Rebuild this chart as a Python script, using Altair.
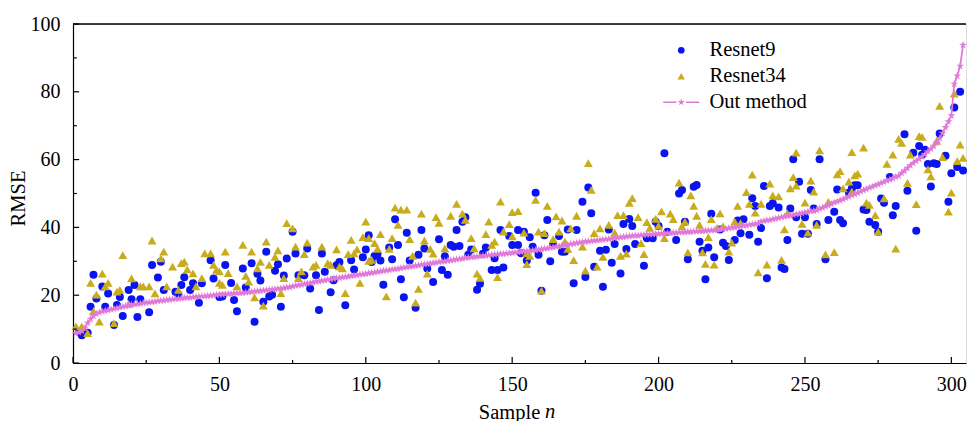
import altair as alt
import pandas as pd

FONT = "Liberation Serif"
BLUE = "#0a14f0"
GOLD = "#c8ac1c"
PINK = "#e07ad8"

series_names = ["Resnet9", "Resnet34", "Out method"]

# Resnet9 (blue dots): sample index and RMSE
r9_x = [2, 3, 5, 6, 7, 8, 10, 11, 12, 14, 15, 16, 17, 19, 20, 21, 22, 23, 26, 27,
        29, 30, 31, 35, 36, 37, 38, 40, 41, 43, 44, 47, 48, 50,
        51, 52, 54, 55, 56, 58, 59, 61, 62, 63, 64, 65, 66, 67, 68, 69, 70, 71, 72, 73,
        75, 76, 77, 79, 80, 81, 83, 84, 85, 86, 88, 89, 90, 91, 93, 95, 96, 99, 100, 101, 102,
        103, 104, 105, 106, 108, 109, 110, 111, 112, 113, 114, 115, 117, 118, 119, 120, 121, 123, 125, 126,
        127, 128, 129, 130, 131, 132, 133, 134, 135, 136, 138, 139, 140, 141, 143, 144, 145, 146, 147, 149, 150, 152,
        152, 153, 154, 155, 156, 157, 158, 159, 160, 161, 162, 163, 164, 166, 167, 168, 169, 171, 172, 174,
        175, 176, 177, 178, 180, 181, 182, 183, 184, 185, 187, 188, 189, 190, 191, 192, 195, 196, 198, 199, 200, 202, 203,
        206, 207, 208, 209, 210, 212, 213, 214, 215, 216, 217, 218, 219, 221, 222, 223, 224, 226, 227, 228,
        229, 231, 232, 233, 234, 235, 236, 237, 238, 239, 241, 242, 243, 244, 245, 246, 247, 248, 249, 250, 251, 252, 253, 254, 255,
        257, 258, 260, 261, 262, 263, 265, 266, 267, 268, 270, 271, 272, 274, 275, 276, 277, 279, 280, 281,
        284, 285, 287, 288, 289, 290, 291, 292, 293, 294, 295, 296, 298, 299, 300, 301, 302, 303, 304]
r9_y = [9.2, 8.2, 8.9, 16.6, 26.0, 19.0, 22.6, 16.6, 20.5, 11.2, 17.1, 19.5, 13.9, 21.5, 18.8, 23.0, 13.6, 18.8, 15.0, 28.9,
        25.2, 29.9, 21.5, 21.0, 20.1, 23.0, 25.3, 21.5, 23.5, 17.8, 23.5, 30.3, 24.9, 19.5,
        19.6, 28.9, 23.6, 18.6, 15.3, 27.9, 22.3, 29.4, 12.2, 26.3, 24.3, 18.1, 32.8, 19.6, 20.1, 27.2, 29.1, 16.6, 25.8, 30.8,
        38.7, 32.3, 25.9, 25.9, 33.8, 22.0, 25.9, 15.6, 32.3, 26.9, 20.9, 24.4, 28.8, 29.8, 17.0, 30.3, 27.6, 31.2, 33.5, 37.7, 29.8,
        31.6, 32.2, 30.2, 23.1, 34.1, 30.6, 42.4, 34.8, 24.7, 19.4, 38.4, 30.2, 16.3, 31.9, 39.2, 33.8, 27.9, 23.9, 36.5, 27.4,
        31.5, 26.0, 34.8, 34.3, 39.2, 34.5, 41.7, 43.0, 31.9, 33.5, 21.6, 23.4, 32.2, 34.1, 27.4, 30.9, 27.4, 39.2, 28.2, 37.5, 34.8, 39.2,
        34.8, 32.4, 38.7, 30.2, 37.1, 34.3, 50.2, 31.9, 21.3, 37.7, 42.2, 30.0, 35.1, 37.5, 32.8, 32.8, 39.4, 23.5, 39.2, 47.6,
        25.4, 51.8, 44.2, 28.4, 33.1, 22.5, 33.4, 39.4, 29.6, 35.1, 26.4, 41.0, 33.6, 42.5, 40.4, 35.1, 28.7, 36.8, 36.8, 41.7, 40.4, 61.9, 38.7,
        36.3, 50.0, 51.0, 41.7, 30.6, 52.0, 52.5, 35.8, 33.1, 24.7, 34.1, 44.0, 31.2, 39.4, 35.5, 34.5, 30.4, 36.3, 42.0, 38.3,
        42.4, 37.8, 48.6, 46.3, 35.8, 39.8, 52.2, 25.0, 46.3, 47.1, 45.9, 28.2, 27.7, 36.3, 45.6, 60.1, 43.0, 53.5, 38.1, 43.0, 38.1, 51.0, 45.6, 41.0, 60.1,
        30.6, 42.2, 44.6, 51.2, 42.2, 41.2, 50.2, 51.5, 52.4, 52.4, 45.3, 45.1, 41.7, 40.7, 38.7, 48.5, 47.3, 54.9, 43.6, 46.3,
        67.5, 50.8, 62.0, 39.0, 64.0, 61.4, 62.9, 58.7, 52.1, 58.9, 58.7, 67.7, 61.1, 47.6, 56.0, 75.4, 57.8, 80.0, 56.8]

# Resnet34 (gold triangles): sample index and RMSE
r34_x = [1, 3, 5, 6, 7, 8, 9, 10, 11, 12, 14, 15, 16, 17, 19, 20, 23, 24, 26, 27,
         28, 30, 31, 32, 34, 36, 37, 38, 39, 41, 42, 44, 45, 47, 48, 49, 50,
         50, 51, 52, 53, 56, 58, 59, 60, 61, 62, 63, 64, 65, 66, 67, 69, 70, 71, 72, 73,
         75, 76, 77, 78, 79, 80, 82, 83, 85, 87, 88, 90, 91, 92, 93, 94, 95, 96, 97, 98, 99, 100, 101,
         101, 102, 103, 104, 105, 107, 108, 109, 110, 111, 112, 114, 115, 116, 117, 118, 119, 120, 121, 122,
         123, 124, 125, 127, 129, 131, 133, 134, 136, 137, 138, 139, 141, 142, 143, 144, 145, 146, 147, 149, 150, 150, 152,
         154, 155, 155, 156, 158, 159, 160, 161, 162, 164, 165, 166, 167, 168, 169, 170, 171, 172, 174, 175,
         176, 177, 178, 179, 180, 181, 183, 185, 186, 187, 188, 189, 190, 191, 193, 194, 195, 196, 197, 199, 200, 201, 202,
         204, 205, 207, 208, 209, 210, 211, 212, 213, 214, 215, 216, 217, 218, 219, 220, 221, 222, 224, 225,
         226, 227, 228, 230, 231, 232, 233, 234, 235, 237, 238, 239, 241, 242, 243, 244, 245, 246, 247, 247,
         249, 250, 251, 252, 253, 254, 255,
         257, 258, 260, 261, 262, 263, 265, 266, 266, 267, 268, 270, 271, 272, 274, 275, 277, 278, 280, 281,
         282, 283, 285, 286, 288, 289, 290, 292, 293, 295, 296, 297, 299, 300, 301, 302, 303, 304]
r34_y = [10.8, 10.8, 8.8, 23.6, 15.3, 20.1, 12.2, 26.3, 22.6, 23.6, 11.7, 21.0, 21.5, 31.8, 17.4, 24.9, 22.6, 22.6, 22.6, 36.1,
         20.5, 30.8, 32.8, 22.6, 28.4, 21.5, 29.4, 29.9, 27.6, 26.4, 22.6, 25.0, 32.3, 32.3, 28.9, 27.4, 23.6,
         27.0, 23.0, 32.8, 26.5, 22.6, 34.8, 25.7, 24.0, 32.8, 19.3, 27.9, 29.8, 16.9, 35.8, 28.9, 31.3, 33.2, 20.6, 25.0, 41.2,
         39.7, 34.3, 25.0, 27.0, 32.1, 35.5, 28.4, 28.9, 34.3, 29.4, 28.9, 33.5, 28.4, 27.9, 20.6, 32.1, 36.3, 32.3, 33.5, 23.6, 37.1, 41.7, 30.1,
         36.8, 30.4, 35.3, 33.6, 38.0, 19.6, 33.6, 36.8, 45.8, 40.7, 45.2, 45.2, 36.5, 31.6, 17.8, 21.8, 44.0, 36.1, 26.3, 33.6,
         32.2, 43.0, 41.3, 33.8, 43.4, 46.9, 44.0, 42.2, 36.8, 33.8, 26.3, 25.1, 38.0, 41.7, 34.8, 35.8, 25.3, 47.6, 38.7, 40.9, 44.5, 37.3, 44.8,
         38.4, 32.4, 29.1, 31.6, 48.1, 38.7, 21.3, 38.3, 46.3, 36.5, 43.2, 38.7, 42.0, 35.8, 33.6, 39.7, 30.3, 43.4, 34.3, 27.2,
         58.9, 51.0, 38.3, 28.4, 39.7, 31.3, 40.7, 38.4, 43.6, 31.6, 43.6, 32.2, 47.2, 48.6, 43.0, 35.3, 32.1, 41.5, 39.8, 42.5, 40.5, 44.7, 36.8,
         44.0, 42.4, 53.2, 40.3, 41.7, 32.6, 49.4, 46.3, 43.4, 40.7, 32.6, 29.2, 37.1, 42.4, 29.0, 39.8, 44.1, 40.3, 32.8, 35.5,
         41.7, 46.3, 41.2, 50.4, 46.9, 55.5, 44.3, 26.7, 46.9, 29.0, 52.9, 49.4, 49.1, 30.4, 39.4, 44.1, 51.5, 54.8, 52.3, 62.0,
         41.0, 47.3, 38.4, 53.8, 50.5, 40.7, 62.7,
         32.0, 47.5, 32.7, 55.6, 56.6, 51.5, 53.5, 50.5, 62.2, 55.3, 55.8, 63.5, 47.3, 46.6, 43.6, 38.7, 48.5, 58.7, 61.4, 33.7,
         66.1, 64.9, 53.1, 61.4, 46.8, 66.9, 66.7, 57.1, 55.0, 65.5, 75.8, 60.7, 44.6, 50.2, 79.4, 59.5, 64.4, 60.5]

# Out method (sorted curve), samples 1..304
out_y = [8.8, 9.0, 9.4, 10.3, 11.8, 13.0, 13.9, 14.5, 14.9, 15.2,
         15.4, 15.6, 15.8, 16.0, 16.2, 16.4, 16.6, 16.8, 17.0, 17.2,
         17.3, 17.4, 17.5, 17.7, 17.8, 17.9, 18.0, 18.1, 18.3, 18.4,
         18.5, 18.6, 18.7, 18.8, 18.9, 19.0, 19.1, 19.2, 19.3, 19.3,
         19.4, 19.5, 19.6, 19.7, 19.7, 19.8, 19.9, 20.0, 20.1, 20.2,
         20.2, 20.3, 20.4, 20.4, 20.5, 20.6, 20.6, 20.7, 20.8, 20.9,
         21.0, 21.1, 21.2, 21.3, 21.4, 21.5, 21.6, 21.7, 21.8, 21.9,
         22.0, 22.1, 22.3, 22.4, 22.6, 22.8, 23.0, 23.1, 23.3, 23.5,
         23.6, 23.8, 24.0, 24.1, 24.3, 24.4, 24.6, 24.7, 24.9, 25.0,
         25.1, 25.3, 25.4, 25.5, 25.7, 25.8, 25.9, 26.1, 26.2, 26.3,
         26.5, 26.6, 26.7, 26.9, 27.0, 27.2, 27.3, 27.4, 27.6, 27.7,
         27.8, 28.0, 28.1, 28.3, 28.4, 28.5, 28.7, 28.8, 29.0, 29.1,
         29.2, 29.4, 29.5, 29.6, 29.8, 29.9, 30.0, 30.2, 30.3, 30.4,
         30.6, 30.7, 30.8, 31.0, 31.1, 31.2, 31.3, 31.4, 31.5, 31.6,
         31.7, 31.8, 31.9, 32.0, 32.1, 32.2, 32.2, 32.3, 32.4, 32.5,
         32.6, 32.7, 32.8, 32.9, 33.0, 33.1, 33.2, 33.3, 33.4, 33.6,
         33.7, 33.8, 34.0, 34.1, 34.3, 34.4, 34.6, 34.8, 34.9, 35.1,
         35.2, 35.4, 35.5, 35.7, 35.8, 35.9, 36.0, 36.1, 36.2, 36.3,
         36.4, 36.5, 36.6, 36.7, 36.9, 37.0, 37.1, 37.2, 37.3, 37.4,
         37.5, 37.6, 37.6, 37.7, 37.8, 37.9, 37.9, 38.0, 38.1, 38.1,
         38.2, 38.2, 38.3, 38.3, 38.4, 38.4, 38.5, 38.5, 38.6, 38.7,
         38.7, 38.8, 38.8, 38.9, 38.9, 39.0, 39.1, 39.1, 39.2, 39.3,
         39.4, 39.5, 39.6, 39.8, 39.9, 40.0, 40.2, 40.3, 40.5, 40.6,
         40.8, 40.9, 41.0, 41.2, 41.7, 41.9, 42.1, 42.2, 42.4, 42.6,
         42.8, 43.0, 43.2, 43.4, 43.5, 43.7, 43.9, 44.0, 44.2, 44.4,
         44.6, 44.8, 44.9, 45.1, 45.5, 45.8, 46.2, 46.5, 46.9, 47.3,
         47.6, 48.0, 48.3, 48.7, 49.1, 49.5, 49.8, 50.2, 50.6, 51.0,
         51.3, 51.7, 52.0, 52.4, 52.7, 53.1, 53.4, 53.8, 54.1, 54.5,
         54.9, 55.2, 56.0, 56.7, 57.5, 58.3, 59.0, 59.6, 60.2, 60.9,
         61.6, 62.4, 63.2, 64.0, 65.0, 66.3, 67.8, 69.5, 71.2, 73.0,
         82.3, 84.7, 87.6, 93.8]
out_x = list(range(1, len(out_y) + 1))

x_major = [0, 50, 100, 150, 200, 250, 300]
x_minor = [25, 75, 125, 175, 225, 275]
y_major = [0, 20, 40, 60, 80, 100]
y_minor = [10, 30, 50, 70, 90]
x_domain = [0, 305]
y_domain = [0, 100]

# ---------------------------------------------------------------
scatter_df = pd.concat([
    pd.DataFrame({"sample": r9_x, "value": r9_y, "series": "Resnet9"}),
    pd.DataFrame({"sample": r34_x, "value": r34_y, "series": "Resnet34"}),
], ignore_index=True)
out_df = pd.DataFrame({"sample": out_x, "value": out_y})

xtick_df = pd.DataFrame({"t": x_major + x_minor, "a": 0.0,
                         "len": [1.8] * len(x_major) + [0.9] * len(x_minor)})
ytick_df = pd.DataFrame({"t": y_major + y_minor, "a": 0.0,
                         "len": [2.1] * len(y_major) + [1.3] * len(y_minor)})
top_df = pd.DataFrame({"x0": [x_domain[0]], "x1": [x_domain[1]], "y": [y_domain[1]]})

STAR = ("M0,-1L0.225,-0.309L0.951,-0.309L0.363,0.118L0.588,0.809L0,0.382"
        "L-0.588,0.809L-0.363,0.118L-0.951,-0.309L-0.225,-0.309Z")
TRI = "M0,-1.0L1.12,0.94L-1.12,0.94Z"
LINE_STAR = ("M-5.4,-0.22H-1.4V0.22H-5.4Z M1.4,-0.22H5.4V0.22H1.4Z "
             "M0,-1.15L0.258,-0.355L1.094,-0.355L0.417,0.136L0.676,0.93L0,0.439"
             "L-0.676,0.93L-0.417,0.136L-1.094,-0.355L-0.258,-0.355Z")

xs = alt.Scale(domain=x_domain, nice=False, zero=False)
ys = alt.Scale(domain=y_domain, nice=False, zero=False)

xaxis = alt.Axis(values=x_major, format="d", title="Sample", grid=False,
                 ticks=False, tickSize=0, labelPadding=11, labelFlush=False,
                 domainColor="black", domainWidth=1.2,
                 labelFont=FONT, labelFontSize=20, labelColor="black",
                 titleFont=FONT, titleFontSize=20.5, titleFontWeight="normal",
                 titleColor="black", titleX=436, titleY=55,
                 titleAlign="center", titleBaseline="alphabetic")
yaxis = alt.Axis(values=y_major, format="d", title="RMSE", grid=False,
                 ticks=False, tickSize=0, labelPadding=13, labelFlush=False,
                 domainColor="black", domainWidth=1.2,
                 labelFont=FONT, labelFontSize=20, labelColor="black",
                 titleFont=FONT, titleFontSize=20.5, titleFontWeight="normal",
                 titleColor="black", titleX=-55, titleY=174, titleAngle=270,
                 titleAlign="center", titleBaseline="middle")

legend = alt.Legend(title=None, orient="none", legendX=598, legendY=16,
                    labelFont=FONT, labelFontSize=20.5, labelColor="black",
                    symbolSize=45, rowPadding=5, labelOffset=18, padding=0,
                    symbolStrokeWidth=0)

scatter = alt.Chart(scatter_df).mark_point(filled=True, opacity=1, size=64).encode(
    x=alt.X("sample:Q", scale=xs, axis=xaxis),
    y=alt.Y("value:Q", scale=ys, axis=yaxis),
    color=alt.Color("series:N", scale=alt.Scale(domain=series_names, range=[BLUE, GOLD, PINK]), legend=legend),
    shape=alt.Shape("series:N", scale=alt.Scale(domain=series_names, range=["circle", TRI, LINE_STAR]), legend=legend),
)

line = alt.Chart(out_df).mark_line(color=PINK, strokeWidth=1.8).encode(
    x=alt.X("sample:Q", scale=xs, axis=xaxis),
    y=alt.Y("value:Q", scale=ys, axis=yaxis),
)
stars = alt.Chart(out_df).mark_point(filled=True, shape=STAR, size=70, color=PINK, opacity=1).encode(
    x=alt.X("sample:Q", scale=xs, axis=xaxis),
    y=alt.Y("value:Q", scale=ys, axis=yaxis),
)

xticks = alt.Chart(xtick_df).mark_rule(color="black", strokeWidth=1.2).encode(
    x=alt.X("t:Q", scale=xs, axis=xaxis),
    y=alt.Y("a:Q", scale=ys, axis=yaxis),
    y2="len:Q",
)
yticks = alt.Chart(ytick_df).mark_rule(color="black", strokeWidth=1.2).encode(
    y=alt.Y("t:Q", scale=ys, axis=yaxis),
    x=alt.X("a:Q", scale=xs, axis=xaxis),
    x2="len:Q",
)
top_border = alt.Chart(top_df).mark_rule(color="black", strokeWidth=1.3).encode(
    x=alt.X("x0:Q", scale=xs, axis=xaxis),
    x2="x1:Q",
    y=alt.Y("y:Q", scale=ys, axis=yaxis),
)

n_text = alt.Chart(alt.Data(values=[{"label": "n"}])).mark_text(
    font=FONT, fontSize=20.5, fontStyle="italic", align="left",
    baseline="alphabetic", color="black"
).encode(x=alt.value(472), y=alt.value(394), text="label:N")

chart = alt.layer(scatter, line, stars, xticks, yticks, top_border, n_text).properties(
    width=893, height=339,
    autosize=alt.AutoSizeParams(type="none"),
    padding={"left": 65, "top": 16, "right": 1, "bottom": 58},
).configure_view(stroke="transparent").configure(background="white")

chart.save("out.html", embed_options={"renderer": "svg", "actions": False})
